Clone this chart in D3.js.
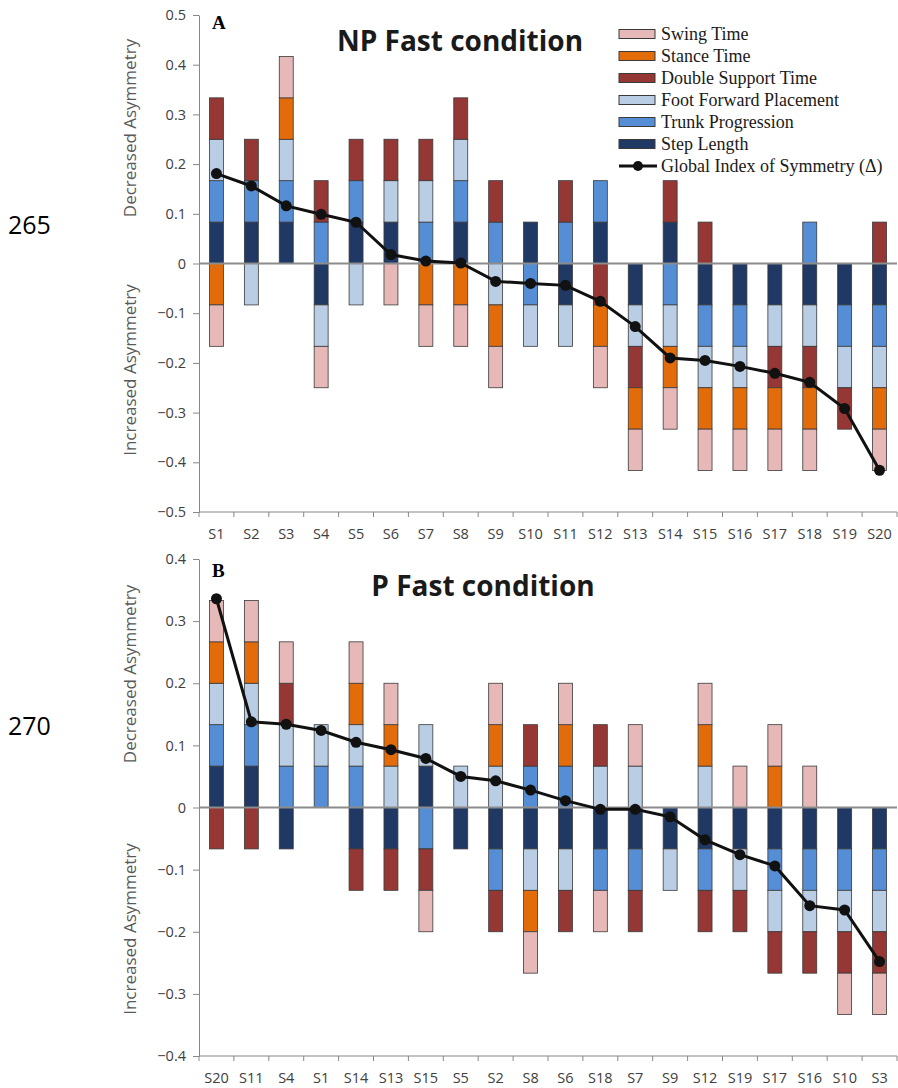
<!DOCTYPE html>
<html lang="en">
<head>
<meta charset="UTF-8"/>
<title>NP / P Fast condition</title>
<script src="https://d3js.org/d3.v7.min.js"></script>
<style type="text/css">
  body { margin: 0; background: #fff; }
  .tick text { font-family: "Open Sans", Lato, sans-serif; fill: #404040; }
  .axis path, .axis line { stroke: #888; }
  .ytitle { font-family: "Open Sans", sans-serif; font-size: 17px; fill: #595959; }
  .ctitle { font-family: "Open Sans", sans-serif; font-weight: bold; font-size: 28px; fill: #1a1a1a; }
  .plabel { font-family: "Liberation Serif", serif; font-weight: bold; font-size: 19px; }
  .legend text { font-family: "Liberation Serif", serif; font-size: 18px; fill: #1a1a1a; }
  .pagenum { font-family: "Open Sans", sans-serif; font-size: 25px; fill: #000; }
</style>
</head>
<body>
<script>

// parameter names (legend order) and their colours
var params = ["Swing Time", "Stance Time", "Double Support Time",
              "Foot Forward Placement", "Trunk Progression", "Step Length"];
var colors = ["#e6b9b8", "#e36c0a", "#953735", "#b9cde5", "#558ed5", "#1f3864"];
// stacking order from zero line outward
var stackOrder = ["Step Length", "Trunk Progression", "Foot Forward Placement",
                  "Double Support Time", "Stance Time", "Swing Time"];

// ---- Panel A: NP Fast condition (each contribution = 1/12) ----
var subjectsA = ["S1","S2","S3","S4","S5","S6","S7","S8","S9","S10",
                 "S11","S12","S13","S14","S15","S16","S17","S18","S19","S20"];
var unitA = 1 / 12;
var swingA  = [-1,0,1,-1,0,-1,-1,-1,-1,0,0,-1,-1,-1,-1,-1,-1,-1,0,-1];
var stanceA = [-1,0,1,0,0,0,-1,-1,-1,0,0,-1,-1,-1,-1,-1,-1,-1,0,-1];
var dstA    = [1,1,0,1,1,1,1,1,1,0,1,-1,-1,1,1,0,-1,-1,-1,1];
var ffpA    = [1,-1,1,-1,-1,1,1,1,-1,-1,-1,0,-1,-1,-1,-1,-1,-1,-1,-1];
var trunkA  = [1,1,1,1,1,0,1,1,1,-1,1,1,0,-1,-1,-1,0,1,-1,-1];
var stepA   = [1,1,1,-1,1,1,0,1,0,1,-1,1,-1,1,-1,-1,-1,-1,-1,-1];
var gisA = [0.181,0.156,0.116,0.099,0.083,0.018,0.005,0.001,-0.036,-0.040,
            -0.044,-0.076,-0.127,-0.190,-0.195,-0.207,-0.221,-0.239,-0.292,-0.416];
var ticksA = [0.5,0.4,0.3,0.2,0.1,0,-0.1,-0.2,-0.3,-0.4,-0.5];

// ---- Panel B: P Fast condition (each contribution = 1/15) ----
var subjectsB = ["S20","S11","S4","S1","S14","S13","S15","S5","S2","S8",
                 "S6","S18","S7","S9","S12","S19","S17","S16","S10","S3"];
var unitB = 1 / 15;
var swingB  = [1,1,1,0,1,1,-1,0,1,-1,1,-1,1,0,1,1,1,1,-1,-1];
var stanceB = [1,1,0,0,1,1,0,0,1,-1,1,0,0,0,1,0,1,0,0,0];
var dstB    = [-1,-1,1,0,-1,-1,-1,0,-1,1,-1,1,-1,0,-1,-1,-1,-1,-1,-1];
var ffpB    = [1,1,1,1,1,1,1,1,1,-1,-1,1,1,-1,1,-1,-1,-1,-1,-1];
var trunkB  = [1,1,1,1,1,0,-1,0,-1,1,1,-1,-1,0,-1,0,-1,-1,-1,-1];
var stepB   = [1,1,-1,0,-1,-1,1,-1,-1,-1,-1,-1,-1,-1,-1,-1,-1,-1,-1,-1];
var gisB = [0.336,0.138,0.134,0.124,0.105,0.093,0.079,0.050,0.043,0.028,
            0.011,-0.003,-0.003,-0.015,-0.052,-0.076,-0.094,-0.158,-0.165,-0.248];
var ticksB = [0.4,0.3,0.2,0.1,0,-0.1,-0.2,-0.3,-0.4];

var W = 898, H = 1088;
var svg = d3.select("body").append("svg")
    .attr("width", W)
    .attr("height", H);

var color = d3.scaleOrdinal().domain(params).range(colors);

function drawPanel(cfg) {
    var g = svg.append("g");
    var x = d3.scaleBand().domain(cfg.subjects).range([199, 897]).paddingInner(0.6).paddingOuter(0.3);
    var xb = d3.scaleBand().domain(cfg.subjects).range([199, 897]);
    var y = d3.scaleLinear().domain(cfg.domain).range([cfg.bottom, cfg.top]);

    var series = {
        "Swing Time": cfg.swing, "Stance Time": cfg.stance,
        "Double Support Time": cfg.dst, "Foot Forward Placement": cfg.ffp,
        "Trunk Progression": cfg.trunk, "Step Length": cfg.step
    };

    // build stacked segments
    var segs = [];
    cfg.subjects.forEach(function(s, i) {
        var pos = 0, neg = 0;
        stackOrder.forEach(function(p) {
            var v = series[p][i] * cfg.unit;
            if (v > 0) { segs.push({s: s, p: p, y0: pos, y1: pos + v}); pos += v; }
            else if (v < 0) { segs.push({s: s, p: p, y0: neg + v, y1: neg}); neg += v; }
        });
    });

    // y axis
    g.append("g")
        .attr("class", "axis")
        .attr("transform", "translate(199,0)")
        .call(d3.axisLeft(y).tickValues(cfg.ticks).tickSize(6).tickSizeOuter(0)
              .tickFormat(function(d) { return d === 0 ? "0" : d3.format(".1f")(d); }))
        .call(function(a) { a.selectAll("text").attr("font-size", 14.5).attr("dx", -4); });

    // x axis at bottom
    var xa = g.append("g")
        .attr("class", "axis")
        .attr("transform", "translate(0," + cfg.bottom + ")")
        .call(d3.axisBottom(xb).tickSize(0).tickPadding(17));
    xa.selectAll("text").attr("font-size", 14.5);
    xa.select(".domain").attr("d", "M199,0H897");
    xa.selectAll(".bnd").data(cfg.subjects.concat([null])).enter().append("line")
        .attr("x1", function(d, i) { return 199 + i * xb.bandwidth(); })
        .attr("x2", function(d, i) { return 199 + i * xb.bandwidth(); })
        .attr("y1", 0).attr("y2", 5).attr("stroke", "#888");

    // bars
    g.selectAll(".seg").data(segs).enter().append("rect")
        .attr("x", function(d) { return x(d.s); })
        .attr("width", x.bandwidth())
        .attr("y", function(d) { return y(d.y1); })
        .attr("height", function(d) { return y(d.y0) - y(d.y1); })
        .attr("fill", function(d) { return color(d.p); })
        .attr("stroke", "#3a3a3a")
        .attr("stroke-width", 0.8);

    // zero line
    g.append("line")
        .attr("x1", 199).attr("x2", 897)
        .attr("y1", y(0)).attr("y2", y(0))
        .attr("stroke", "#8c8c8c").attr("stroke-width", 2);

    // global index line
    var line = d3.line()
        .x(function(d, i) { return xb(cfg.subjects[i]) + xb.bandwidth() / 2; })
        .y(function(d) { return y(d); });
    g.append("path").datum(cfg.gis)
        .attr("fill", "none").attr("stroke", "#111").attr("stroke-width", 3)
        .attr("d", line);
    g.selectAll(".dot").data(cfg.gis).enter().append("circle")
        .attr("cx", function(d, i) { return xb(cfg.subjects[i]) + xb.bandwidth() / 2; })
        .attr("cy", function(d) { return y(d); })
        .attr("r", 5.5).attr("fill", "#111");

    // axis titles
    [["Decreased Asymmetry", cfg.decY], ["Increased Asymmetry", cfg.incY]].forEach(function(t) {
        g.append("text").attr("class", "ytitle")
            .attr("transform", "translate(136," + t[1] + ") rotate(-90)")
            .attr("text-anchor", "middle").text(t[0]);
    });

    g.append("text").attr("class", "plabel").attr("x", 212).attr("y", cfg.labelY).text(cfg.label);
    g.append("text").attr("class", "ctitle").attr("x", cfg.titleX).attr("y", cfg.titleY)
        .attr("text-anchor", "middle").text(cfg.title);
    g.append("text").attr("class", "pagenum").attr("x", 8).attr("y", cfg.pageY).text(cfg.page);
}

drawPanel({
    subjects: subjectsA, unit: unitA, swing: swingA, stance: stanceA, dst: dstA,
    ffp: ffpA, trunk: trunkA, step: stepA, gis: gisA, ticks: ticksA,
    domain: [-0.5, 0.5], top: 15, bottom: 512,
    decY: 128, incY: 370, label: "A", labelY: 29,
    title: "NP Fast condition", titleX: 460, titleY: 51,
    page: "265", pageY: 234
});

drawPanel({
    subjects: subjectsB, unit: unitB, swing: swingB, stance: stanceB, dst: dstB,
    ffp: ffpB, trunk: trunkB, step: stepB, gis: gisB, ticks: ticksB,
    domain: [-0.4, 0.4], top: 559, bottom: 1056,
    decY: 674, incY: 929, label: "B", labelY: 577,
    title: "P Fast condition", titleX: 483, titleY: 596,
    page: "270", pageY: 735
});

// legend (panel A)
var legend = svg.append("g").attr("class", "legend");
var rowY = d3.scalePoint().domain(params.concat(["gis"])).range([34, 166]);
params.forEach(function(p) {
    legend.append("rect")
        .attr("x", 619).attr("y", rowY(p) - 4.5)
        .attr("width", 36).attr("height", 9)
        .attr("fill", color(p)).attr("stroke", "#3a3a3a").attr("stroke-width", 1);
    legend.append("text").attr("x", 661).attr("y", rowY(p)).attr("dy", "0.35em").text(p);
});
legend.append("line").attr("x1", 619).attr("x2", 657)
    .attr("y1", rowY("gis")).attr("y2", rowY("gis"))
    .attr("stroke", "#111").attr("stroke-width", 3);
legend.append("circle").attr("cx", 638).attr("cy", rowY("gis")).attr("r", 5).attr("fill", "#111");
legend.append("text").attr("x", 661).attr("y", rowY("gis")).attr("dy", "0.35em")
    .text("Global Index of Symmetry (\u0394)");

</script>
</body>
</html>
